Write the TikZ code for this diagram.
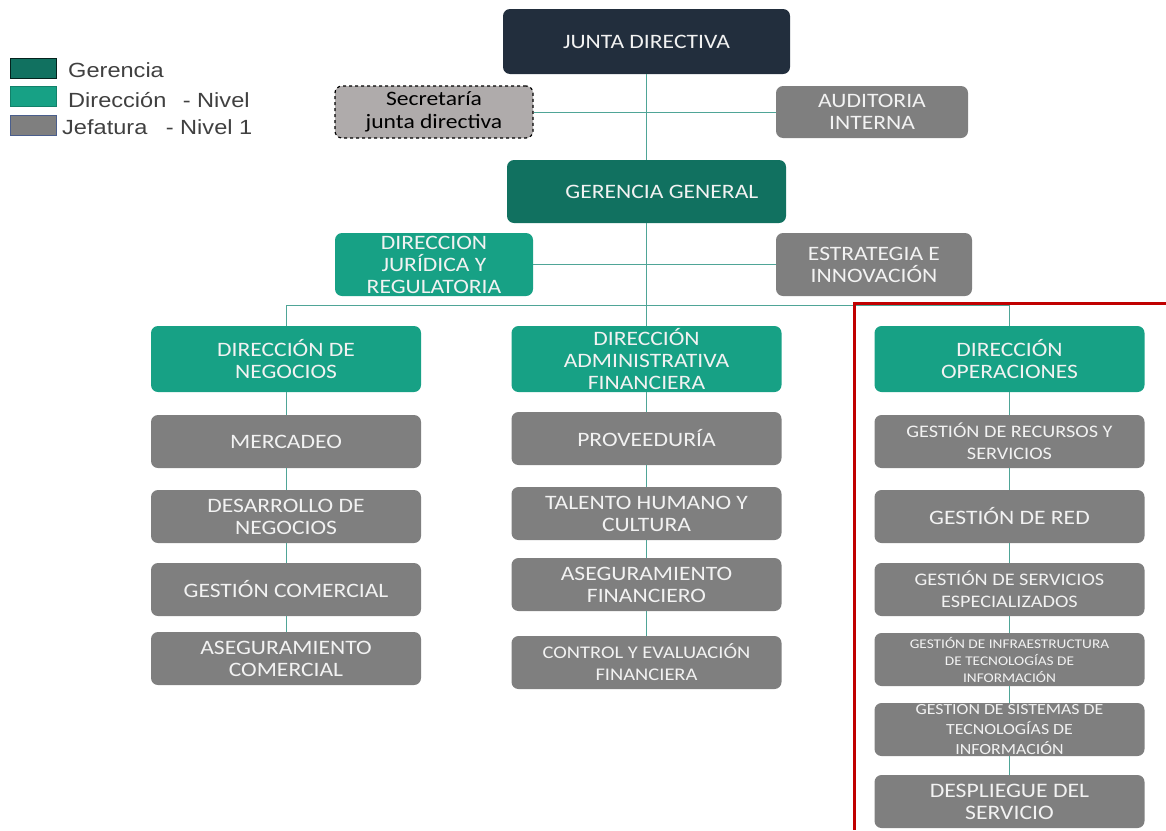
\documentclass[tikz,border=0pt]{standalone}
\usepackage{fontspec}
\setmainfont{Carlito}[FakeStretch=1.15]
\newfontfamily\legendfont{Liberation Sans}[FakeStretch=1.15]
\usepackage{xcolor}
\definecolor{juntablue}{HTML}{222E3D}
\definecolor{gerteal}{HTML}{117160}
\definecolor{dirteal}{HTML}{17A185}
\definecolor{jefgray}{HTML}{7F7F7F}
\definecolor{secgray}{HTML}{AFABAB}
\definecolor{linkteal}{HTML}{4FA597}
\definecolor{framered}{HTML}{C00000}
\definecolor{legtext}{HTML}{404040}
\definecolor{swatchblue}{HTML}{4A5E8C}
\newcommand\fsz[2]{\fontsize{#1}{#2}\selectfont}
\tikzset{
	box/.style={rounded corners=7pt, align=center, text=white!95!black, inner sep=1pt, font=\fsz{20.5}{22}},
	gerbox/.style={box, fill=gerteal},
	dirbox/.style={box, fill=dirteal},
	jefbox/.style={box, fill=jefgray},
	headbox/.style={minimum width=270pt, minimum height=66pt},
	colbox/.style={minimum width=270pt, minimum height=53pt},
	link/.style={draw=linkteal, line width=1pt},
	swatch/.style={minimum width=46pt, minimum height=20pt, inner sep=0pt, line width=1pt},
	legend/.style={anchor=west, inner sep=0pt, text=legtext, font=\legendfont\fsz{20.5}{22}}
}

\begin{document}
\begin{tikzpicture}[x=1pt, y=-1pt]
	\useasboundingbox (0,0) rectangle (1166,830);

	% legend
	\node[swatch, draw=black!70!gerteal, fill=gerteal] (lgger) at (33,68) {};
	\node[swatch, draw=dirteal!80!black, fill=dirteal] (lgdir) at (33,96) {};
	\node[swatch, draw=swatchblue, fill=jefgray] (lgjef) at (33,125) {};
	\node[legend] (lgtger) at (68,70) {Gerencia};
	\node[legend] (lgtdir) at (68,100) {Dirección\hspace{0.8em}- Nivel};
	\node[legend] (lgtjef) at (62,127) {Jefatura\hspace{0.9em}- Nivel 1};

	% top levels
	\node[box, fill=juntablue, minimum width=287pt, minimum height=65pt] (junta) at (646.5,41.5) {JUNTA DIRECTIVA};
	\node[box, fill=secgray, text=black, draw=black, dashed, line width=1.2pt, minimum width=198pt, minimum height=52pt, font=\fsz{20.5}{23}] (secre) at (434,112) {Secretaría\\junta directiva};
	\node[jefbox, minimum width=192pt, minimum height=52pt] (audit) at (872,112) {AUDITORIA\\INTERNA};
	\node[gerbox, minimum width=279pt, minimum height=63pt] (gergen) at (646.5,191.5) {\hspace{1.5em}GERENCIA GENERAL};
	\node[dirbox, minimum width=198pt, minimum height=63pt] (jurid) at (434,264.5) {DIRECCION\\JURÍDICA Y\\REGULATORIA};
	\node[jefbox, minimum width=196pt, minimum height=63pt] (estra) at (874,264.5) {ESTRATEGIA E\\INNOVACIÓN};

	\draw[link] (junta.south) -- (gergen.north);
	\draw[link] (secre.east) -- (audit.west);
	\draw[link] (jurid.east) -- (estra.west);

	% direcciones
	\node[dirbox, headbox] (dneg) at (286,359) {DIRECCIÓN DE\\NEGOCIOS};
	\node[dirbox, headbox] (dadm) at (646.5,359) {DIRECCIÓN\\ADMINISTRATIVA\\FINANCIERA};
	\node[dirbox, headbox] (dope) at (1009.5,359) {DIRECCIÓN\\OPERACIONES};

	\coordinate (busL) at (286,305);
	\coordinate (busM) at (646.5,305);
	\coordinate (busR) at (1009.5,305);
	\draw[link] (gergen.south) -- (busM);
	\draw[link] (busL) -- (busR);
	\draw[link] (busL) -- (dneg.north);
	\draw[link] (busM) -- (dadm.north);
	\draw[link] (busR) -- (dope.north);

	% jefaturas negocios
	\node[jefbox, colbox] (merca) at (286,441.5) {MERCADEO};
	\node[jefbox, colbox] (desar) at (286,516.5) {DESARROLLO DE\\NEGOCIOS};
	\node[jefbox, colbox] (gcome) at (286,589.5) {GESTIÓN COMERCIAL};
	\node[jefbox, colbox] (acome) at (286,658.5) {ASEGURAMIENTO\\COMERCIAL};
	\draw[link] (dneg.south) -- (merca.north);
	\draw[link] (merca.south) -- (desar.north);
	\draw[link] (desar.south) -- (gcome.north);
	\draw[link] (gcome.south) -- (acome.north);

	% jefaturas administrativa
	\node[jefbox, colbox] (prove) at (646.5,438.5) {PROVEEDURÍA};
	\node[jefbox, colbox] (talen) at (646.5,513.5) {TALENTO HUMANO Y\\CULTURA};
	\node[jefbox, colbox] (afina) at (646.5,584.5) {ASEGURAMIENTO\\FINANCIERO};
	\node[jefbox, colbox, font=\fsz{17.8}{22}] (contr) at (646.5,662.5) {CONTROL Y EVALUACIÓN\\FINANCIERA};
	\draw[link] (dadm.south) -- (prove.north);
	\draw[link] (prove.south) -- (talen.north);
	\draw[link] (talen.south) -- (afina.north);
	\draw[link] (afina.south) -- (contr.north);

	% jefaturas operaciones
	\node[jefbox, colbox, font=\fsz{17.6}{22}] (grecu) at (1009.5,441.5) {GESTIÓN DE RECURSOS Y\\SERVICIOS};
	\node[jefbox, colbox] (gred) at (1009.5,516.5) {GESTIÓN DE RED};
	\node[jefbox, colbox, font=\fsz{17.6}{22}] (gserv) at (1009.5,589.5) {GESTIÓN DE SERVICIOS\\ESPECIALIZADOS};
	\node[jefbox, colbox, font=\fsz{13.3}{17}] (ginfr) at (1009.5,659.5) {GESTIÓN DE INFRAESTRUCTURA\\DE TECNOLOGÍAS DE\\INFORMACIÓN};
	\node[jefbox, colbox, font=\fsz{15.5}{20}] (gsist) at (1009.5,729.5) {GESTION DE SISTEMAS DE\\TECNOLOGÍAS DE\\INFORMACIÓN};
	\node[jefbox, colbox, font=\fsz{20.6}{22}] (despl) at (1009.5,801.5) {DESPLIEGUE DEL\\SERVICIO};
	\draw[link] (dope.south) -- (grecu.north);
	\draw[link] (grecu.south) -- (gred.north);
	\draw[link] (gred.south) -- (gserv.north);
	\draw[link] (gserv.south) -- (ginfr.north);
	\draw[link] (ginfr.south) -- (gsist.north);
	\draw[link] (gsist.south) -- (despl.north);

	% marco
	\draw[framered, line width=3pt] (1166,303.5) -- (854.5,303.5) -- (854.5,830);
\end{tikzpicture}
\end{document}
